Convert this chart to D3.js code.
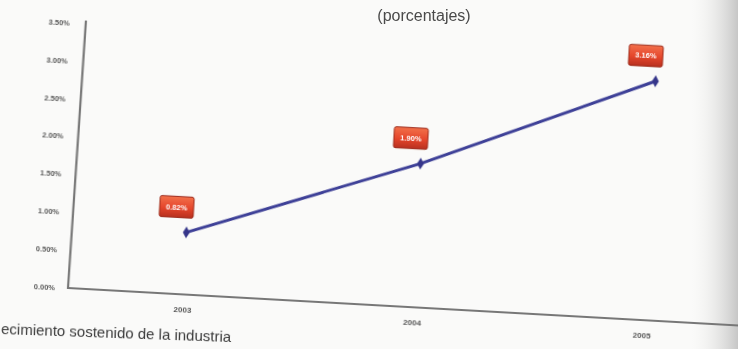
<!DOCTYPE html>
<html>
<head>
<meta charset="utf-8">
<script src="https://cdn.jsdelivr.net/npm/d3@7"></script>
<style>
  html, body { margin: 0; padding: 0; background: #f6f6f4; }
  svg { display: block; }
</style>
</head>
<body>
<svg id="chart" width="738" height="349"></svg>
<script>
// Growth rate by year (percent)
const years = ["2003", "2004", "2005"];
const growth = [0.82, 1.90, 3.16];
const yTicks = [0, 0.5, 1.0, 1.5, 2.0, 2.5, 3.0, 3.5];
const subtitle = "(porcentajes)";
const caption = "ecimiento sostenido de la industria";

const svg = d3.select("#chart");
const W = 738, H = 349;
const pct = d => d3.format(".2f")(d) + "%";

// page background with a soft shadow toward the right edge
const defs = svg.append("defs");
const shade = defs.append("linearGradient").attr("id", "edge")
  .attr("x1", "0").attr("x2", "1").attr("y1", "0").attr("y2", "0");
shade.append("stop").attr("offset", "0%").attr("stop-color", "#f4f4f2").attr("stop-opacity", 0);
shade.append("stop").attr("offset", "100%").attr("stop-color", "#c6c6c6").attr("stop-opacity", 1);

const boxGrad = defs.append("linearGradient").attr("id", "box")
  .attr("x1", "0").attr("x2", "0").attr("y1", "0").attr("y2", "1");
boxGrad.append("stop").attr("offset", "0%").attr("stop-color", "#f2704a");
boxGrad.append("stop").attr("offset", "55%").attr("stop-color", "#e5462c");
boxGrad.append("stop").attr("offset", "100%").attr("stop-color", "#b8301f");

defs.append("filter").attr("id", "soft")
  .append("feGaussianBlur").attr("stdDeviation", 0.55);

svg.append("rect").attr("width", W).attr("height", H).attr("fill", "#fafaf9");
svg.append("rect").attr("x", 690).attr("y", 0).attr("width", 48).attr("height", H).attr("fill", "url(#edge)");

// subtitle
svg.append("text")
  .attr("x", 424).attr("y", 21)
  .attr("text-anchor", "middle")
  .attr("font-family", "Liberation Sans, Arial, sans-serif")
  .attr("font-size", 16)
  .attr("fill", "#4a4a4a")
  .attr("filter", "url(#soft)")
  .text(subtitle);

// chart body, slightly tilted
const g = svg.append("g")
  .attr("transform", "translate(68,288) rotate(3.2)")
  .attr("filter", "url(#soft)");

const x = d3.scalePoint().domain(years).range([0, 690]).padding(0.5);
const y = d3.scaleLinear().domain([0, 3.5]).range([0, -265]);

// y-axis tick labels
const yAxis = d3.axisLeft(y).tickValues(yTicks).tickFormat(pct).tickSize(0).tickPadding(13);
const ya = g.append("g").call(yAxis);
ya.select(".domain").remove();
ya.selectAll("text")
  .attr("font-family", "Liberation Sans, Arial, sans-serif")
  .attr("font-size", 7.5)
  .attr("font-weight", "bold")
  .attr("fill", "#5a5a5a");

// x-axis labels
const xAxis = d3.axisBottom(x).tickSize(0).tickPadding(12);
const xa = g.append("g").call(xAxis);
xa.select(".domain").remove();
xa.selectAll("text")
  .attr("font-family", "Liberation Sans, Arial, sans-serif")
  .attr("font-size", 8)
  .attr("font-weight", "bold")
  .attr("fill", "#555");

// axis lines
g.append("path")
  .attr("d", `M3,${y(3.5) - 3}L0,0L720,0`)
  .attr("fill", "none")
  .attr("stroke", "#777")
  .attr("stroke-width", 2.2);

// growth line
const line = d3.line().x((d, i) => x(years[i])).y(d => y(d));
g.append("path")
  .datum(growth)
  .attr("d", line)
  .attr("fill", "none")
  .attr("stroke", "#3e3f97")
  .attr("stroke-width", 3);

g.selectAll("path.marker")
  .data(growth)
  .join("path")
  .attr("class", "marker")
  .attr("transform", (d, i) => `translate(${x(years[i])},${y(d)})`)
  .attr("d", d3.symbol(d3.symbolDiamond, 40))
  .attr("fill", "#35368a");

// value labels
const lab = g.selectAll("g.val")
  .data(growth)
  .join("g")
  .attr("class", "val")
  .attr("transform", (d, i) => `translate(${x(years[i]) - 11},${y(d) - 25})`);

lab.append("rect")
  .attr("x", -17).attr("y", -10.5)
  .attr("width", 34).attr("height", 21)
  .attr("rx", 2)
  .attr("fill", "url(#box)")
  .attr("stroke", "#9c2a1c")
  .attr("stroke-width", 1);

lab.append("text")
  .attr("text-anchor", "middle")
  .attr("dy", "0.35em")
  .attr("font-family", "Liberation Sans, Arial, sans-serif")
  .attr("font-size", 7.5)
  .attr("font-weight", "bold")
  .attr("fill", "#fff")
  .text(d => pct(d));

// running text below the chart
svg.append("text")
  .attr("transform", "translate(1,334) rotate(2)")
  .attr("font-family", "Liberation Sans, Arial, sans-serif")
  .attr("font-size", 15)
  .attr("fill", "#3a3a3a")
  .attr("filter", "url(#soft)")
  .text(caption);
</script>
</body>
</html>
